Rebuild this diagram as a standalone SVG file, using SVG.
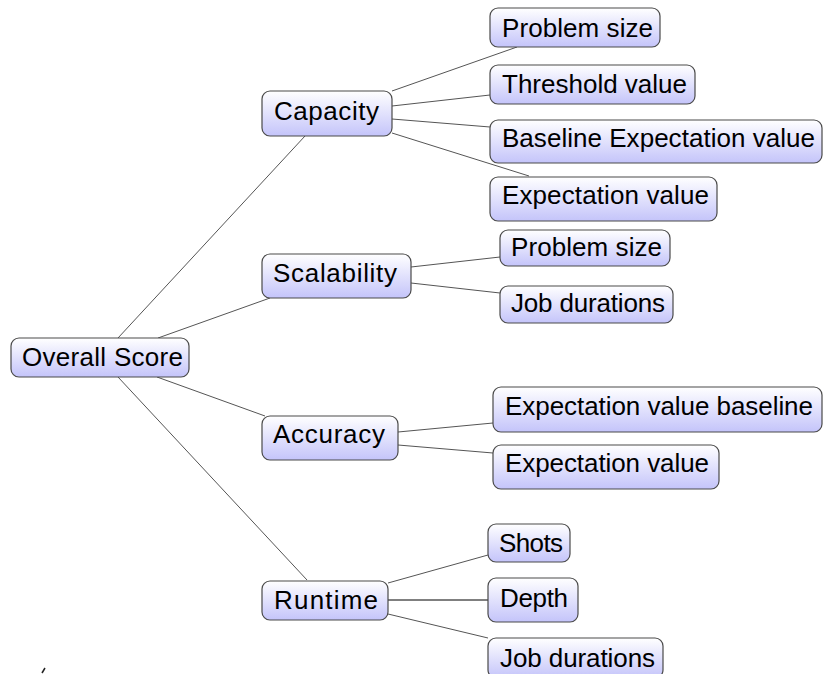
<svg xmlns="http://www.w3.org/2000/svg" width="823" height="674" viewBox="0 0 823 674">
<defs>
<linearGradient id="g" x1="0" y1="0" x2="0" y2="1">
<stop offset="0" stop-color="#ffffff"/>
<stop offset="1" stop-color="#c4c4fa"/>
</linearGradient>
<style>
.n rect{fill:url(#g);stroke:#4a4a4a;stroke-width:1.2}
.n text{font-family:"Liberation Sans",Arial,sans-serif;font-size:26px;fill:#000}
.c line{stroke:#555;stroke-width:1}
</style>
</defs>
<rect width="823" height="674" fill="#fff"/>
<g class="c">
<line x1="118" y1="338" x2="305" y2="136"/>
<line x1="158" y1="338" x2="270" y2="298"/>
<line x1="157" y1="377" x2="265" y2="416"/>
<line x1="118" y1="377" x2="307" y2="580"/>
<line x1="392" y1="91" x2="517" y2="47"/>
<line x1="392" y1="106" x2="490" y2="95"/>
<line x1="392" y1="119" x2="490" y2="127"/>
<line x1="392" y1="133" x2="529" y2="176"/>
<line x1="411" y1="267" x2="500" y2="257"/>
<line x1="411" y1="283" x2="500" y2="293"/>
<line x1="398" y1="432" x2="493" y2="423"/>
<line x1="398" y1="445" x2="493" y2="453"/>
<line x1="388" y1="583" x2="488" y2="555"/>
<line x1="388" y1="600" x2="488" y2="600" style="stroke:#000"/>
<line x1="388" y1="614" x2="488" y2="638"/>
<line x1="42" y1="673" x2="45" y2="668" style="stroke:#222;stroke-width:1.5"/>
</g>
<g id="overall" class="n"><rect x="11" y="338" width="178" height="39" rx="8"/><text x="22" y="366" textLength="161" lengthAdjust="spacing">Overall Score</text></g>
<g id="capacity" class="n"><rect x="262" y="91" width="130" height="45" rx="8"/><text x="274" y="120" textLength="105" lengthAdjust="spacing">Capacity</text></g>
<g id="cap-problem" class="n"><rect x="490" y="8" width="170" height="39" rx="8"/><text x="502" y="37" textLength="151" lengthAdjust="spacing">Problem size</text></g>
<g id="cap-threshold" class="n"><rect x="490" y="65" width="205" height="39" rx="8"/><text x="502" y="93" textLength="185" lengthAdjust="spacing">Threshold value</text></g>
<g id="cap-baseline" class="n"><rect x="490" y="120" width="332" height="43" rx="8"/><text x="502" y="147" textLength="313" lengthAdjust="spacing">Baseline Expectation value</text></g>
<g id="cap-expect" class="n"><rect x="490" y="177" width="227" height="44" rx="8"/><text x="502" y="204" textLength="207" lengthAdjust="spacing">Expectation value</text></g>
<g id="scalability" class="n"><rect x="262" y="254" width="149" height="44" rx="8"/><text x="273" y="282" textLength="124" lengthAdjust="spacing">Scalability</text></g>
<g id="sc-problem" class="n"><rect x="500" y="230" width="170" height="36" rx="8"/><text x="511" y="256" textLength="151" lengthAdjust="spacing">Problem size</text></g>
<g id="sc-jobs" class="n"><rect x="500" y="286" width="173" height="37" rx="8"/><text x="511" y="312" textLength="154" lengthAdjust="spacing">Job durations</text></g>
<g id="accuracy" class="n"><rect x="262" y="416" width="136" height="44" rx="8"/><text x="273" y="443" textLength="112" lengthAdjust="spacing">Accuracy</text></g>
<g id="acc-baseline" class="n"><rect x="493" y="387" width="329" height="45" rx="8"/><text x="505" y="415" textLength="308" lengthAdjust="spacing">Expectation value baseline</text></g>
<g id="acc-expect" class="n"><rect x="493" y="445" width="226" height="44" rx="8"/><text x="505" y="472" textLength="204" lengthAdjust="spacing">Expectation value</text></g>
<g id="runtime" class="n"><rect x="262" y="581" width="126" height="39" rx="8"/><text x="274" y="609" textLength="104" lengthAdjust="spacing">Runtime</text></g>
<g id="rt-shots" class="n"><rect x="488" y="524" width="82" height="38" rx="8"/><text x="499" y="552" textLength="64" lengthAdjust="spacing">Shots</text></g>
<g id="rt-depth" class="n"><rect x="488" y="578" width="90" height="44" rx="8"/><text x="500" y="607" textLength="68" lengthAdjust="spacing">Depth</text></g>
<g id="rt-jobs" class="n"><rect x="488" y="638" width="175" height="40" rx="8"/><text x="500" y="667" textLength="155" lengthAdjust="spacing">Job durations</text></g>
</svg>
